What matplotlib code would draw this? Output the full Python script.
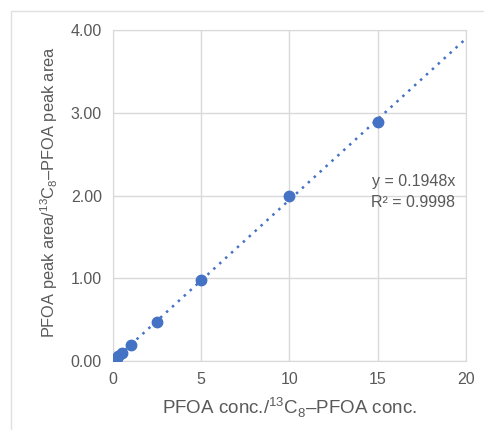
import matplotlib
matplotlib.use("Agg")
import matplotlib.pyplot as plt
from matplotlib.patches import Rectangle

# calibration points
conc_ratio = [0.2, 0.3, 0.5, 1.0, 2.5, 5.0, 10.0, 15.0]
area_ratio = [0.04, 0.06, 0.10, 0.19, 0.47, 0.98, 1.99, 2.89]
slope = 0.1948
r_squared = 0.9998
trend_x = [0.0, 20.0]

x_ticks = [0, 5, 10, 15, 20]
y_ticks = [0.0, 1.0, 2.0, 3.0, 4.0]

blue = "#4472C4"
text_gray = "#595959"
grid_gray = "#d9d9d9"

plt.rcParams["font.family"] = ["Liberation Sans", "DejaVu Sans"]
plt.rcParams["mathtext.fontset"] = "custom"
plt.rcParams["mathtext.rm"] = "Liberation Sans"

fig = plt.figure(figsize=(4.85, 4.3), dpi=100)
fig.patches.append(Rectangle((11 / 485, -0.05), 1.0, 1.05 - 11 / 430,
                             transform=fig.transFigure, fill=False,
                             edgecolor="#e0e0e0", linewidth=1.0))

ax = fig.add_axes([113 / 485, 1 - 361 / 430, 353 / 485, 331 / 430])

ax.plot(trend_x, [slope * v for v in trend_x], linestyle=(0, (1, 2.2)),
        color=blue, linewidth=1.8, zorder=2)
ax.plot(conc_ratio, area_ratio, "o", color=blue, markersize=7.5, zorder=3)

ax.set_xlim(0, 20)
ax.set_ylim(0, 4)
ax.set_xticks(x_ticks)
ax.set_yticks(y_ticks)
ax.set_yticklabels([f"{v:.2f}" for v in y_ticks])
ax.grid(True, color=grid_gray, linewidth=1.0)
ax.set_axisbelow(True)
for spine in ax.spines.values():
    spine.set_color(grid_gray)
ax.tick_params(length=0, labelsize=11.5, colors=text_gray, pad=8)

ax.set_xlabel("PFOA conc./$^{13}$C$_8$\u2013PFOA conc.", fontsize=13.5,
              color=text_gray, labelpad=6)
ax.set_ylabel("PFOA peak area/$^{13}$C$_8$\u2013PFOA peak area", fontsize=11.8,
              color=text_gray)
ax.yaxis.set_label_coords(-0.15, 0.51)

ax.text(0.97, 0.51, f"y = {slope}x\nR\u00b2 = {r_squared}", transform=ax.transAxes,
        ha="right", va="center", fontsize=11.5, color=text_gray, linespacing=1.45)

fig.savefig("out.png", dpi=100)
